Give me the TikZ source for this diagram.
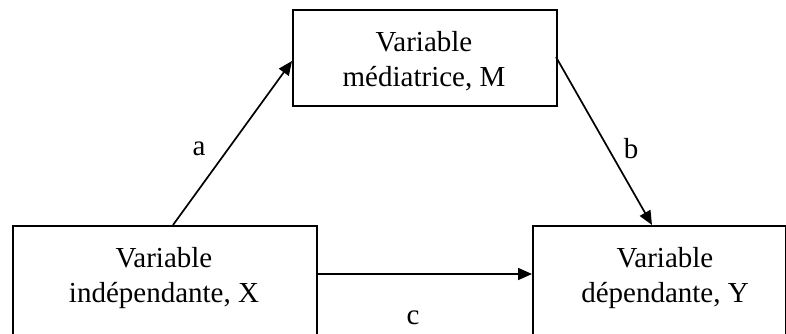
\documentclass[tikz,border=0pt]{standalone}
\usepackage{fontspec}
\setmainfont{Liberation Serif}
\usetikzlibrary{arrows.meta}
\begin{document}
\begin{tikzpicture}[x=1pt,y=-1pt,
  box/.style={draw,line width=1.8pt,inner sep=0pt,anchor=north west},
  txt/.style={font=\fontsize{29}{35}\selectfont,align=center,inner sep=0pt},
  lbl/.style={font=\fontsize{29}{35}\selectfont,inner sep=0pt},
  arr/.style={line width=1.7pt,-{Triangle[length=14pt,width=12pt]}}]
\useasboundingbox (0,0) rectangle (786,334);
\clip (0,0) rectangle (786,334);
\node[box,minimum width=264pt,minimum height=96pt] (M) at (292,9) {};
\node[box,minimum width=304pt,minimum height=140pt] (X) at (12,225) {};
\node[box,minimum width=253pt,minimum height=140pt] (Y) at (532,225) {};
\node[txt] (Mt) at (424,61) {Variable\\médiatrice, M};
\node[txt] (Xt) at (164,278) {Variable\\indépendante, X};
\node[txt] (Yt) at (665,278) {Variable\\dépendante, Y};
\coordinate (a0) at (173,225);
\coordinate (a1) at (292,61);
\coordinate (b0) at (556,57);
\coordinate (b1) at (652,225);
\coordinate (c0) at (316,274);
\coordinate (c1) at (532,274);
\draw[arr] (a0) -- (a1);
\draw[arr] (b0) -- (b1);
\draw[arr] (c0) -- (c1);
\node[lbl] (la) at (199,149) {a};
\node[lbl] (lb) at (631,149) {b};
\node[lbl] (lc) at (413,318) {c};
\end{tikzpicture}
\end{document}
